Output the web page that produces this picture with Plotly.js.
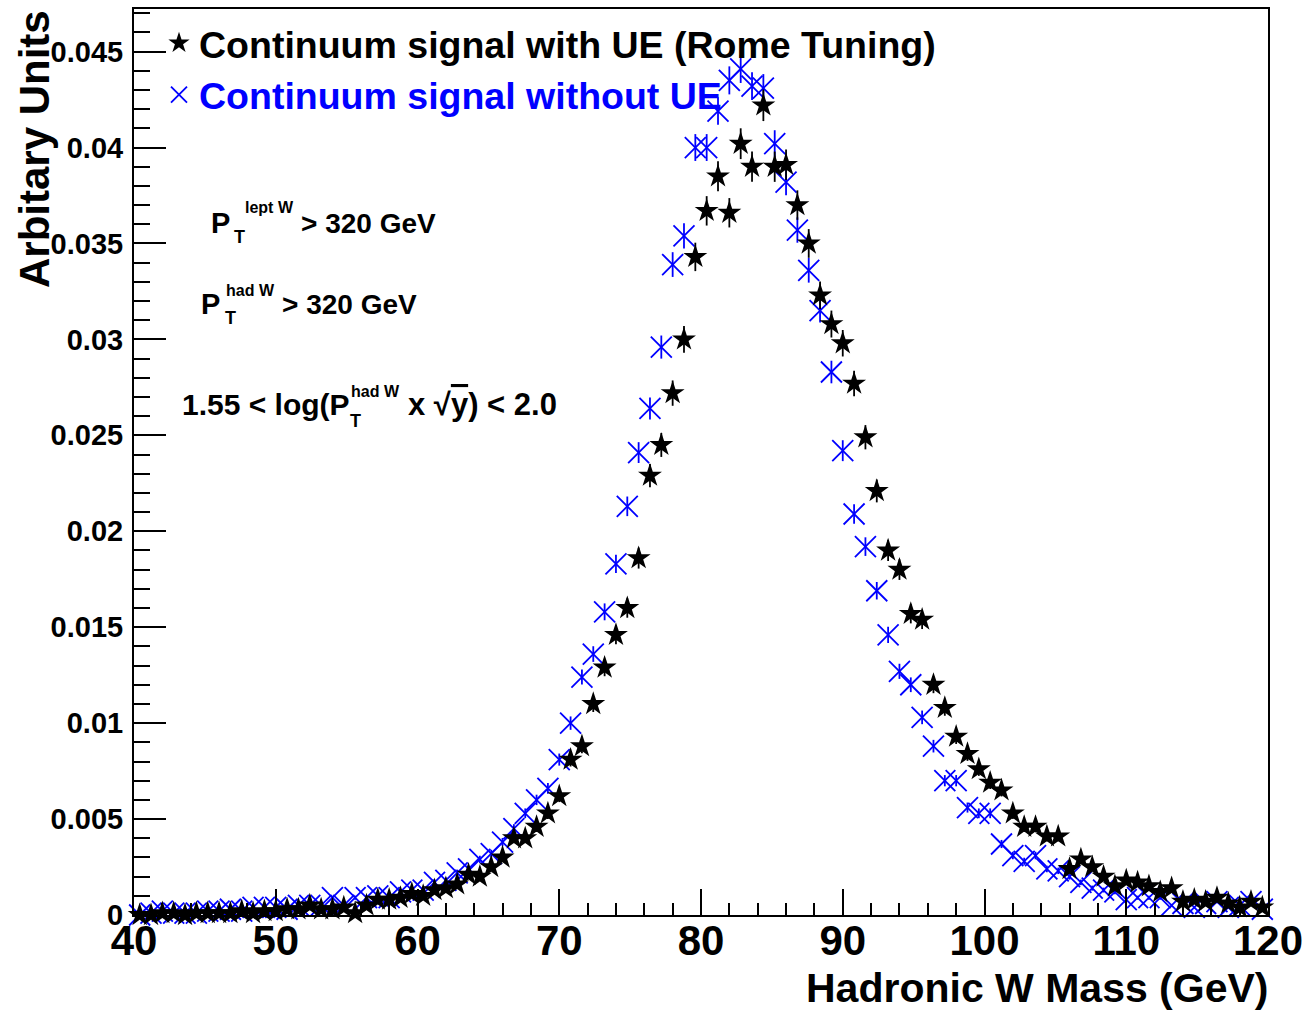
<!DOCTYPE html>
<html>
<head>
<meta charset="utf-8">
<script src="https://cdn.plot.ly/plotly-3.0.1.min.js"></script>
<style>html,body{margin:0;padding:0;background:#fff;}#chart{width:1306px;height:1010px;}</style>
</head>
<body>
<div id="chart"></div>
<script>
// Bin centres of the hadronic W mass histogram (GeV)
const massBins = [40.4,41.2,42.0,42.8,43.6,44.4,45.2,46.0,46.8,47.6,48.4,49.2,50.0,50.8,51.6,52.4,53.2,54.0,54.8,55.6,
56.4,57.2,58.0,58.8,59.6,60.4,61.2,62.0,62.8,63.6,64.4,65.2,66.0,66.8,67.6,68.4,69.2,70.0,70.8,71.6,
72.4,73.2,74.0,74.8,75.6,76.4,77.2,78.0,78.8,79.6,80.4,81.2,82.0,82.8,83.6,84.4,85.2,86.0,86.8,87.6,
88.4,89.2,90.0,90.8,91.6,92.4,93.2,94.0,94.8,95.6,96.4,97.2,98.0,98.8,99.6,100.4,101.2,102.0,102.8,103.6,
104.4,105.2,106.0,106.8,107.6,108.4,109.2,110.0,110.8,111.6,112.4,113.2,114.0,114.8,115.6,116.4,117.2,118.0,118.8,119.6];

// Continuum signal with UE (Rome Tuning)
const withUE = [0.0000,0.0000,0.0001,0.0001,0.0000,0.0001,0.0001,0.0001,0.0001,0.0002,
0.0001,0.0002,0.0002,0.0003,0.0003,0.0005,0.0003,0.0003,0.0004,0.0001,
0.0005,0.0008,0.0008,0.0009,0.0011,0.0010,0.0013,0.0014,0.0016,0.0021,
0.0020,0.0025,0.0030,0.0040,0.0040,0.0046,0.0053,0.0062,0.0081,0.0088,
0.0110,0.0129,0.0146,0.0160,0.0186,0.0229,0.0245,0.0272,0.0300,0.0343,
0.0367,0.0385,0.0366,0.0402,0.0390,0.0422,0.0390,0.0391,0.0370,0.0350,
0.0323,0.0308,0.0298,0.0277,0.0249,0.0221,0.0190,0.0180,0.0157,0.0154,
0.0120,0.0108,0.0093,0.0084,0.0076,0.0069,0.0065,0.0053,0.0046,0.0046,
0.0041,0.0041,0.0024,0.0029,0.0025,0.0020,0.0015,0.0018,0.0017,0.0015,
0.0012,0.0014,0.0007,0.0008,0.0007,0.0009,0.0006,0.0004,0.0007,0.0004];

// Continuum signal without UE
const withoutUE = [0.0000,0.0001,0.0002,0.0001,0.0001,0.0001,0.0002,0.0002,0.0003,0.0002,
0.0004,0.0004,0.0004,0.0003,0.0005,0.0005,0.0005,0.0009,0.0005,0.0009,
0.0009,0.0010,0.0009,0.0012,0.0013,0.0013,0.0017,0.0018,0.0022,0.0024,
0.0029,0.0032,0.0038,0.0045,0.0053,0.0060,0.0066,0.0081,0.0100,0.0124,
0.0136,0.0158,0.0183,0.0213,0.0241,0.0264,0.0296,0.0339,0.0354,0.0400,
0.0400,0.0419,0.0435,0.0441,0.0432,0.0431,0.0402,0.0382,0.0357,0.0336,
0.0315,0.0283,0.0242,0.0209,0.0192,0.0169,0.0146,0.0127,0.0120,0.0103,
0.0088,0.0070,0.0070,0.0056,0.0053,0.0053,0.0037,0.0031,0.0028,0.0031,
0.0024,0.0023,0.0020,0.0017,0.0014,0.0013,0.0012,0.0008,0.0009,0.0009,
0.0009,0.0005,0.0006,0.0004,0.0006,0.0007,0.0004,0.0005,0.0007,0.0003];

const seriesNames = ['Continuum signal with UE (Rome Tuning)', 'Continuum signal without UE'];
const xTitle = 'Hadronic W Mass (GeV)';
const yTitle = 'Arbitary Units';

// statistical (Poisson-like) uncertainties derived from the bin contents
const errWith = withUE.map(v => 0.0040 * Math.sqrt(v));
const errWithout = withoutUE.map(v => 0.0035 * Math.sqrt(v));

const FONT = 'Liberation Sans, Arial, Helvetica, sans-serif';
const L = 134, R = 1268, T = 9, B = 915;
const px = x => (x - L) / (R - L);
const py = y => (B - y) / (B - T);

const traces = [
  {
    x: massBins, y: withoutUE, type: 'scatter', mode: 'markers',
    name: '<span style="color:#0000ff">' + seriesNames[1] + '</span>',
    marker: {symbol: 'x-thin-open', size: 21, color: '#0000ff', line: {color: '#0000ff', width: 1.8}},
    error_y: {type: 'data', array: errWithout, visible: true, color: '#0000ff', thickness: 1.8, width: 0},
    cliponaxis: false
  },
  {
    x: massBins, y: withUE, type: 'scatter', mode: 'markers',
    name: seriesNames[0],
    marker: {symbol: 'star', size: 18, color: '#000000', line: {width: 0}},
    error_y: {type: 'data', array: errWith, visible: true, color: '#000000', thickness: 1.8, width: 0},
    cliponaxis: false
  }
];

function ann(text, x, y, size, xanchor, extra) {
  return Object.assign({
    text: '<b>' + text + '</b>', xref: 'paper', yref: 'paper',
    x: px(x), y: py(y), xanchor: xanchor || 'left', yanchor: 'middle',
    showarrow: false, font: {family: FONT, size: size, color: '#000'}
  }, extra || {});
}

const annotations = [
  ann('P', 209, 223, 29), ann('T', 232, 237, 18), ann('lept W', 243, 207, 16), ann('&gt; 320 GeV', 299, 223, 28),
  ann('P', 199, 304, 29), ann('T', 223, 318, 18), ann('had W', 224, 290, 16), ann('&gt; 320 GeV', 280, 304, 28),
  ann('1.55 &lt; log(P', 180, 404, 30), ann('T', 348, 421, 18), ann('had W', 349, 391, 16),
  ann('x √<span style="text-decoration:overline">y</span>) &lt; 2.0', 406, 404, 31),
  ann(xTitle, 1270, 988, 41, 'right'),
  ann(yTitle, 34, 149, 42, 'center', {textangle: -90})
];

const layout = {
  width: 1306, height: 1010,
  margin: {l: L, r: 1306 - R, t: T, b: 1010 - B, pad: 0},
  paper_bgcolor: '#fff', plot_bgcolor: '#fff',
  showlegend: true,
  legend: {
    x: px(159), y: py(12), xanchor: 'left', yanchor: 'top',
    bgcolor: 'rgba(0,0,0,0)', borderwidth: 0, traceorder: 'reversed',
    font: {family: FONT, size: 37.5, color: '#000', weight: 'bold'},
    itemsizing: 'trace'
  },
  xaxis: {
    range: [40, 120], dtick: 10, tick0: 40,
    ticks: 'inside', ticklen: 26, tickwidth: 2, tickcolor: '#000',
    minor: {dtick: 2, ticks: 'inside', ticklen: 12, tickwidth: 2, tickcolor: '#000'},
    showline: true, linewidth: 2, linecolor: '#000', mirror: true,
    showgrid: false, zeroline: false,
    tickfont: {family: FONT, size: 42, color: '#000', weight: 'bold'},
    ticklabelstandoff: -12
  },
  yaxis: {
    range: [0, 0.04722], dtick: 0.005, tick0: 0,
    ticks: 'inside', ticklen: 32, tickwidth: 2, tickcolor: '#000',
    minor: {dtick: 0.001, ticks: 'inside', ticklen: 16, tickwidth: 2, tickcolor: '#000'},
    showline: true, linewidth: 2, linecolor: '#000', mirror: true,
    showgrid: false, zeroline: false,
    tickfont: {family: FONT, size: 29, color: '#000', weight: 'bold'},
    ticklabelstandoff: 3
  },
  annotations: annotations
};

Plotly.newPlot('chart', traces, layout, {staticPlot: true, displayModeBar: false});
</script>
</body>
</html>
